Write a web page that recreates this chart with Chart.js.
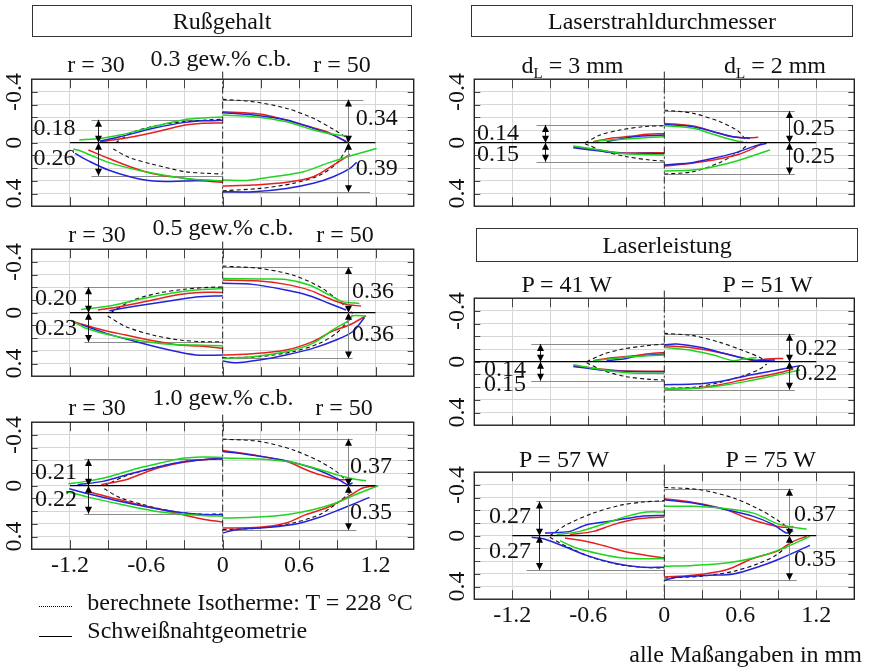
<!DOCTYPE html>
<html><head><meta charset="utf-8">
<script src="https://cdn.jsdelivr.net/npm/chart.js@4.4.1/dist/chart.umd.min.js"></script>
<style>
html,body{margin:0;padding:0;background:#fff;}
#wrap{position:relative;width:869px;height:671px;overflow:hidden;font-family:"Liberation Serif","Times New Roman",serif;color:#111;}
canvas{position:absolute;left:0;top:0;}
.t{position:absolute;font-size:24px;line-height:24px;white-space:nowrap;}
.c{transform:translateX(-50%);}
.box{position:absolute;box-sizing:border-box;border:1px solid #333;font-size:24px;line-height:30px;text-align:center;}
.sub{font-size:15px;position:relative;top:5px;}
.ln{position:absolute;height:0;}
</style></head>
<body><div id="wrap"></div>
<script>
// ---------- DATA ----------
var xTickLabels = [-1.2, -0.6, 0, 0.6, 1.2];
var yTickLabels = [-0.4, 0, 0.4];

// Rußgehalt 0.3 gew.% c.b. (L: r = 30, R: r = 50)
var r03_dims = [0.18, 0.26, 0.34, 0.39];
var r03_L_green_up = [[-1.126,-0.021],[-0.963,-0.034],[-0.806,-0.06],[-0.545,-0.126],[-0.283,-0.184],[-0.126,-0.197],[0,-0.202]];
var r03_L_blue_up = [[-0.963,-0.013],[-0.806,-0.047],[-0.545,-0.113],[-0.296,-0.16],[-0.126,-0.173],[0,-0.176]];
var r03_L_red_up = [[-0.963,-0.008],[-0.81,-0.029],[-0.545,-0.081],[-0.296,-0.139],[-0.18,-0.152],[0,-0.155]];
var r03_L_iso_up = [[-0.84,0],[-0.7,-0.085],[-0.5,-0.138],[-0.3,-0.166],[-0.1,-0.18],[0,-0.184]];
var r03_L_green_lo = [[-1.173,0.05],[-1.13,0.06],[-1.04,0.097],[-0.898,0.155],[-0.728,0.202],[-0.545,0.241],[-0.296,0.281],[-0.126,0.294],[0,0.302]];
var r03_L_blue_lo = [[-1.16,0.084],[-1.04,0.15],[-0.898,0.215],[-0.728,0.268],[-0.545,0.302],[-0.296,0.302],[-0.126,0.297],[0,0.302]];
var r03_L_red_lo = [[-1.055,0.058],[-0.898,0.123],[-0.728,0.189],[-0.545,0.244],[-0.296,0.281],[-0.126,0.302],[0,0.312]];
var r03_L_iso_lo = [[-0.86,0.05],[-0.73,0.118],[-0.545,0.171],[-0.296,0.228],[-0.126,0.241],[0,0.247]];
var r03_R_green_up = [[0,-0.218],[0.24,-0.205],[0.503,-0.165],[0.712,-0.1],[0.869,-0.066],[0.974,-0.052]];
var r03_R_blue_up = [[0,-0.236],[0.24,-0.218],[0.503,-0.178],[0.712,-0.113],[0.869,-0.06],[0.969,-0.008]];
var r03_R_red_up = [[0,-0.244],[0.24,-0.231],[0.398,-0.205],[0.634,-0.139],[0.817,-0.087],[0.948,-0.021],[0.985,0]];
var r03_R_iso_up = [[0,-0.341],[0.24,-0.323],[0.503,-0.27],[0.712,-0.192],[0.869,-0.105],[0.96,-0.047],[0.987,-0.008]];
var r03_R_green_lo = [[0,0.294],[0.19,0.297],[0.398,0.268],[0.634,0.228],[0.843,0.155],[1.026,0.097],[1.209,0.045]];
var r03_R_blue_lo = [[0,0.386],[0.24,0.386],[0.503,0.36],[0.712,0.32],[0.869,0.268],[1.0,0.202],[1.052,0.155]];
var r03_R_red_lo = [[0,0.341],[0.24,0.333],[0.503,0.312],[0.712,0.268],[0.869,0.176],[1.0,0.092]];
var r03_R_iso_lo = [[0,0.378],[0.293,0.36],[0.555,0.32],[0.764,0.255],[0.895,0.163],[0.96,0.071],[0.987,0.018]];

// Rußgehalt 0.5 gew.% c.b.
var r05_dims = [0.20, 0.23, 0.36, 0.36];
var r05_L_green_up = [[-1.113,-0.026],[-0.89,-0.052],[-0.68,-0.1],[-0.419,-0.152],[-0.209,-0.178],[0,-0.19]];
var r05_L_blue_up = [[-0.89,-0.016],[-0.68,-0.052],[-0.419,-0.092],[-0.209,-0.123],[0,-0.134]];
var r05_L_red_up = [[-0.98,-0.021],[-0.81,-0.047],[-0.55,-0.1],[-0.34,-0.144],[-0.183,-0.16],[0,-0.16]];
var r05_L_iso_up = [[-0.88,0],[-0.7,-0.1],[-0.5,-0.155],[-0.3,-0.185],[-0.1,-0.2],[0,-0.202]];
var r05_L_green_lo = [[-1.19,0.058],[-1.073,0.123],[-0.903,0.171],[-0.68,0.215],[-0.419,0.249],[-0.209,0.255],[0,0.26]];
var r05_L_blue_lo = [[-1.113,0.092],[-0.916,0.163],[-0.68,0.228],[-0.419,0.294],[-0.209,0.333],[0,0.333]];
var r05_L_red_lo = [[-1.19,0.066],[-0.942,0.136],[-0.76,0.176],[-0.55,0.22],[-0.34,0.255],[-0.183,0.262],[0,0.281]];
var r05_L_iso_lo = [[-0.903,0.026],[-0.76,0.11],[-0.55,0.176],[-0.34,0.215],[-0.157,0.228],[0,0.228]];
var r05_R_green_up = [[0,-0.27],[0.288,-0.265],[0.497,-0.262],[0.68,-0.218],[0.838,-0.139],[0.942,-0.087],[1.073,-0.073]];
var r05_R_blue_up = [[0,-0.231],[0.236,-0.223],[0.497,-0.178],[0.68,-0.134],[0.838,-0.073],[0.969,-0.021]];
var r05_R_red_up = [[0,-0.257],[0.288,-0.249],[0.497,-0.223],[0.68,-0.178],[0.864,-0.1],[0.969,-0.066],[1.086,-0.052]];
var r05_R_iso_up = [[0,-0.367],[0.288,-0.349],[0.55,-0.297],[0.76,-0.205],[0.89,-0.113],[0.98,-0.034],[1.02,0.005]];
var r05_R_green_lo = [[0,0.36],[0.236,0.346],[0.497,0.307],[0.707,0.241],[0.864,0.136],[0.995,0.058],[1.02,0.024],[1.126,0.026]];
var r05_R_blue_lo = [[0,0.38],[0.105,0.394],[0.288,0.373],[0.497,0.333],[0.707,0.281],[0.89,0.215],[1.02,0.15],[1.113,0.039]];
var r05_R_red_lo = [[0,0.333],[0.236,0.323],[0.497,0.294],[0.707,0.228],[0.864,0.144],[0.995,0.097],[1.126,0.024]];
var r05_R_iso_lo = [[0,0.354],[0.288,0.346],[0.55,0.307],[0.76,0.241],[0.89,0.163],[0.98,0.071],[1.02,0.018]];

// Rußgehalt 1.0 gew.% c.b.
var r10_dims = [0.21, 0.22, 0.37, 0.35];
var r10_L_green_up = [[-1.212,-0.016],[-1.073,-0.034],[-0.885,-0.073],[-0.68,-0.134],[-0.492,-0.178],[-0.34,-0.213],[-0.157,-0.226],[0,-0.223]];
var r10_L_blue_up = [[-1.14,-0.008],[-0.942,-0.034],[-0.733,-0.092],[-0.492,-0.152],[-0.288,-0.192],[-0.131,-0.207],[0,-0.213]];
var r10_L_red_up = [[-0.955,-0.008],[-0.76,-0.047],[-0.55,-0.126],[-0.34,-0.178],[-0.157,-0.205],[0,-0.218]];
var r10_L_iso_up = [[-0.93,0],[-0.75,-0.08],[-0.5,-0.15],[-0.3,-0.19],[-0.1,-0.208],[0,-0.212]];
var r10_L_green_lo = [[-1.23,0.045],[-1.047,0.092],[-0.812,0.144],[-0.55,0.197],[-0.34,0.223],[-0.131,0.236],[0,0.241]];
var r10_L_blue_lo = [[-1.204,0.024],[-1.047,0.066],[-0.812,0.123],[-0.55,0.176],[-0.34,0.21],[-0.131,0.228],[0,0.228]];
var r10_L_red_lo = [[-1.047,0.05],[-0.864,0.097],[-0.68,0.144],[-0.471,0.189],[-0.262,0.241],[-0.131,0.268],[0,0.286]];
var r10_L_iso_lo = [[-0.93,0.024],[-0.812,0.092],[-0.602,0.155],[-0.393,0.202],[-0.183,0.223],[0,0.223]];
var r10_R_green_up = [[0,-0.218],[0.236,-0.213],[0.497,-0.192],[0.707,-0.144],[0.89,-0.087],[1.02,-0.055],[1.126,-0.039]];
var r10_R_blue_up = [[0,-0.27],[0.236,-0.239],[0.497,-0.197],[0.707,-0.139],[0.89,-0.06],[0.98,-0.008],[1.02,-0.021]];
var r10_R_red_up = [[0,-0.278],[0.236,-0.244],[0.497,-0.192],[0.654,-0.126],[0.76,-0.087],[0.916,-0.047],[1.02,-0.055]];
var r10_R_iso_up = [[0,-0.367],[0.288,-0.349],[0.55,-0.283],[0.76,-0.192],[0.89,-0.113],[0.98,-0.034]];
var r10_R_green_lo = [[0,0.255],[0.236,0.249],[0.497,0.228],[0.707,0.189],[0.89,0.136],[1.073,0.058],[1.22,0]];
var r10_R_blue_lo = [[0,0.373],[0.105,0.346],[0.366,0.328],[0.576,0.302],[0.76,0.249],[0.916,0.189],[1.152,0.092]];
var r10_R_red_lo = [[0,0.333],[0.288,0.328],[0.497,0.294],[0.654,0.228],[0.812,0.176],[0.969,0.097],[1.1,0.018],[1.22,0]];
var r10_R_iso_lo = [[0,0.346],[0.288,0.333],[0.55,0.294],[0.76,0.228],[0.89,0.144],[0.98,0.071],[1.02,0.03]];

// Laserstrahldurchmesser (L: dL = 3 mm, R: dL = 2 mm)
var dl_dims = [0.14, 0.15, 0.25, 0.25];
var dl_L_green_up = [[-0.56,-0.005],[-0.508,-0.016],[-0.35,-0.026],[-0.245,-0.034],[0,-0.047]];
var dl_L_blue_up = [[-0.455,-0.008],[-0.35,-0.029],[-0.245,-0.047],[0,-0.06]];
var dl_L_red_up = [[-0.56,-0.008],[-0.429,-0.034],[-0.245,-0.052],[-0.139,-0.066],[0,-0.071]];
var dl_L_iso_up = [[-0.626,0],[-0.508,-0.06],[-0.35,-0.1],[-0.166,-0.126],[0,-0.134]];
var dl_L_green_lo = [[-0.718,0.026],[-0.508,0.058],[-0.35,0.084],[-0.166,0.092],[0,0.097]];
var dl_L_blue_lo = [[-0.718,0.039],[-0.508,0.066],[-0.35,0.084],[-0.166,0.084],[0,0.087]];
var dl_L_red_lo = [[-0.718,0.031],[-0.508,0.06],[-0.35,0.079],[0,0.079]];
var dl_L_iso_lo = [[-0.626,0.008],[-0.48,0.066],[-0.297,0.11],[-0.113,0.136],[0,0.144]];
var dl_R_green_up = [[0,-0.134],[0.229,-0.113],[0.387,-0.066],[0.571,-0.013],[0.624,-0.008]];
var dl_R_blue_up = [[0,-0.144],[0.229,-0.126],[0.387,-0.087],[0.545,-0.047],[0.676,-0.034]];
var dl_R_red_up = [[0,-0.152],[0.229,-0.131],[0.387,-0.087],[0.545,-0.045],[0.676,-0.039],[0.742,-0.042]];
var dl_R_iso_up = [[0,-0.257],[0.229,-0.231],[0.44,-0.165],[0.571,-0.1],[0.624,-0.047],[0.65,0]];
var dl_R_green_lo = [[0,0.223],[0.229,0.215],[0.387,0.189],[0.571,0.144],[0.834,0.058]];
var dl_R_blue_lo = [[0,0.176],[0.229,0.155],[0.387,0.123],[0.545,0.084],[0.703,0.031],[0.808,0.005]];
var dl_R_red_lo = [[0,0.184],[0.229,0.16],[0.387,0.136],[0.571,0.097],[0.703,0.045],[0.768,0.005]];
var dl_R_iso_lo = [[0,0.247],[0.229,0.228],[0.44,0.155],[0.571,0.084],[0.65,0.024]];

// Laserleistung (L: P = 41 W, R: P = 51 W)
var p41_dims = [0.14, 0.15, 0.22, 0.22];
var p41_L_green_up = [[-0.56,-0.008],[-0.429,-0.021],[-0.271,-0.039],[0,-0.052]];
var p41_L_blue_up = [[-0.455,-0.008],[-0.324,-0.021],[-0.245,-0.039],[0,-0.06]];
var p41_L_red_up = [[-0.56,-0.008],[-0.429,-0.029],[-0.245,-0.047],[-0.087,-0.066],[0,-0.071]];
var p41_L_iso_up = [[-0.613,0],[-0.48,-0.06],[-0.324,-0.1],[-0.139,-0.126],[0,-0.139]];
var p41_L_green_lo = [[-0.718,0.024],[-0.508,0.06],[-0.297,0.087],[0,0.092]];
var p41_L_blue_lo = [[-0.718,0.037],[-0.508,0.066],[-0.35,0.076],[0,0.079]];
var p41_L_red_lo = [[-0.718,0.031],[-0.508,0.058],[-0.35,0.071],[0,0.076]];
var p41_L_iso_lo = [[-0.613,0.008],[-0.48,0.071],[-0.297,0.118],[-0.113,0.139],[0,0.144]];
var p41_R_green_up = [[0,-0.113],[0.229,-0.087],[0.387,-0.052],[0.545,-0.008],[0.624,-0.021],[0.729,-0.034]];
var p41_R_blue_up = [[0,-0.134],[0.097,-0.139],[0.282,-0.113],[0.492,-0.06],[0.703,-0.013],[0.874,-0.013]];
var p41_R_red_up = [[0,-0.126],[0.229,-0.108],[0.492,-0.06],[0.703,-0.008],[0.808,-0.021],[0.939,-0.026]];
var p41_R_iso_up = [[0,-0.223],[0.229,-0.205],[0.44,-0.152],[0.624,-0.087],[0.755,-0.034],[0.795,-0.008]];
var p41_R_green_lo = [[0,0.213],[0.229,0.21],[0.44,0.189],[0.65,0.155],[0.86,0.11],[1.071,0.066]];
var p41_R_blue_lo = [[0,0.181],[0.229,0.176],[0.44,0.155],[0.65,0.11],[0.86,0.071],[1.071,0.031]];
var p41_R_red_lo = [[0,0.215],[0.229,0.21],[0.44,0.181],[0.65,0.136],[0.86,0.097],[1.018,0.058]];
var p41_R_iso_lo = [[0,0.21],[0.229,0.202],[0.44,0.163],[0.624,0.11],[0.755,0.058],[0.808,0.018]];

// Laserleistung (L: P = 57 W, R: P = 75 W)
var p57_dims = [0.27, 0.27, 0.37, 0.35];
var p57_L_green_up = [[-0.85,-0.008],[-0.666,-0.034],[-0.482,-0.092],[-0.297,-0.152],[-0.139,-0.186],[0,-0.186]];
var p57_L_blue_up = [[-0.942,-0.021],[-0.745,-0.034],[-0.613,-0.087],[-0.403,-0.118],[-0.192,-0.152],[0,-0.16]];
var p57_L_red_up = [[-0.745,-0.008],[-0.56,-0.034],[-0.403,-0.087],[-0.218,-0.131],[0,-0.147]];
var p57_L_iso_up = [[-0.903,0],[-0.771,-0.087],[-0.56,-0.178],[-0.35,-0.239],[-0.166,-0.265],[0,-0.276]];
var p57_L_green_lo = [[-0.824,0.039],[-0.692,0.097],[-0.508,0.144],[-0.324,0.176],[-0.139,0.181],[0,0.181]];
var p57_L_blue_lo = [[-1.047,0.013],[-0.955,0.024],[-0.824,0.071],[-0.613,0.155],[-0.403,0.215],[-0.192,0.247],[0,0.249]];
var p57_L_red_lo = [[-0.784,0.018],[-0.613,0.045],[-0.455,0.084],[-0.297,0.129],[-0.139,0.155],[0,0.176]];
var p57_L_iso_lo = [[-0.903,0.013],[-0.771,0.084],[-0.56,0.176],[-0.35,0.228],[-0.166,0.249],[0,0.255]];
var p57_R_green_up = [[0,-0.231],[0.229,-0.231],[0.492,-0.213],[0.703,-0.178],[0.913,-0.087],[1.124,-0.052]];
var p57_R_blue_up = [[0,-0.283],[0.229,-0.257],[0.492,-0.205],[0.703,-0.152],[0.86,-0.087],[0.966,-0.021],[1.018,-0.039]];
var p57_R_red_up = [[0,-0.291],[0.229,-0.262],[0.492,-0.205],[0.65,-0.139],[0.808,-0.092],[0.939,-0.066],[1.018,-0.073]];
var p57_R_iso_up = [[0,-0.38],[0.282,-0.362],[0.545,-0.297],[0.755,-0.205],[0.887,-0.126],[0.979,-0.06],[1.018,-0.021]];
var p57_R_green_lo = [[0,0.241],[0.229,0.234],[0.492,0.215],[0.703,0.176],[0.913,0.11],[1.15,0.005]];
var p57_R_blue_lo = [[0,0.352],[0.097,0.328],[0.36,0.312],[0.545,0.302],[0.755,0.241],[0.913,0.181],[1.15,0.076]];
var p57_R_red_lo = [[0,0.325],[0.229,0.312],[0.492,0.268],[0.703,0.178],[0.887,0.123],[1.018,0.045],[1.124,0.005]];
var p57_R_iso_lo = [[0,0.333],[0.282,0.32],[0.545,0.281],[0.755,0.215],[0.887,0.15],[0.979,0.071],[1.018,0.018]];

// ---------- LAYOUT / STYLE ----------
var W = 869, H = 671;
var FONT = '"Liberation Serif","Times New Roman",serif';
var COLORS = {green:'#1ed51e', blue:'#2323dc', red:'#e6201e', iso:'#111'};
var panels = [
 {id:'r03', box:[31.7,79.2,413.7,206.2], zeroFrom:-1.2, xLab:false,
  lay:{lArrow:-0.976, rArrow:0.985, lFrom:[-1.03,-1.03], rTo:[1.105,1.157], lLab:[-1.32,-0.113,0.126], rLab:[1.21,-0.19,0.205], rShaft:'#888'}},
 {id:'r05', box:[31.7,249.2,413.7,376.2], zeroFrom:-1.2, xLab:false,
  lay:{lArrow:-1.055, rArrow:0.987, lFrom:[-1.086,-1.086], rTo:[1.02,1.02], lLab:[-1.31,-0.113,0.123], rLab:[1.18,-0.165,0.17], rShaft:'#888'}},
 {id:'r10', box:[31.7,422.2,413.7,549.2], zeroFrom:-1.2, xLab:true,
  lay:{lArrow:-1.06, rArrow:0.987, lFrom:[-1.086,-1.086], rTo:[1.02,1.05], lLab:[-1.31,-0.1,0.11], rLab:[1.165,-0.152,0.215], rShaft:'#888'}},
 {id:'dl', box:[474.3,79.2,854.3,206.2], zeroFrom:-1.5, xLab:false,
  lay:{lArrow:-0.942, rArrow:0.987, lFrom:[-1.008,-1.008], rTo:[1.03,1.03], lLab:[-1.313,-0.073,0.097], rLab:[1.18,-0.11,0.113], rShaft:'#333'}},
 {id:'p41', box:[474.3,298.2,854.3,425.2], zeroFrom:-1.5, xLab:false,
  lay:{lArrow:-0.98, rArrow:0.988, lFrom:[-1.05,-1.05], rTo:[1.03,1.03], lLab:[-1.258,0.063,0.18], rLab:[1.2,-0.1,0.097], rShaft:'#333'}},
 {id:'p57', box:[474.3,472.2,854.3,599.2], zeroFrom:-1.2, xLab:true,
  lay:{lArrow:-0.99, rArrow:0.988, lFrom:[-1.008,-1.087], rTo:[1.018,1.045], lLab:[-1.218,-0.152,0.129], rLab:[1.19,-0.165,0.19], rShaft:'#888'}}
];

function toXY(arr){ return arr.map(function(p){ return {x:p[0], y:p[1]}; }); }
function lineDs(arr, color, dashed){
  return {data: toXY(arr), borderColor: color, borderWidth: dashed ? 1.1 : 1.5,
          borderDash: dashed ? [4,3] : [], pointRadius: 0, showLine: true, tension: 0.3, fill: false};
}
function head(ctx, x, y, dir){
  ctx.beginPath(); ctx.moveTo(x, y); ctx.lineTo(x-3.5, y - dir*7); ctx.lineTo(x+3.5, y - dir*7); ctx.closePath(); ctx.fill();
}
function fmt(v){ return String(v); }

function panelPlugin(p){
  var dims = window[p.id + '_dims'], L = p.lay;
  return {
    id: 'panel_' + p.id,
    beforeDatasetsDraw: function(chart){
      var ctx = chart.ctx, xs = chart.scales.x, ys = chart.scales.y;
      var X = function(v){ return xs.getPixelForValue(v); }, Y = function(v){ return Math.round(ys.getPixelForValue(v)) + 0.5; };
      ctx.save();
      ctx.strokeStyle = '#8a8a8a'; ctx.lineWidth = 1;
      function hl(x1, x2, y){ ctx.beginPath(); ctx.moveTo(X(x1), Y(y)); ctx.lineTo(X(x2), Y(y)); ctx.stroke(); }
      hl(L.lFrom[0], 0, -dims[0]); hl(L.lFrom[1], 0, dims[1]);
      hl(0, L.rTo[0], -dims[2]); hl(0, L.rTo[1], dims[3]);
      ctx.restore();
    },
    afterDatasetsDraw: function(chart){
      var ctx = chart.ctx, xs = chart.scales.x, ys = chart.scales.y;
      var X = function(v){ return xs.getPixelForValue(v); }, Y = function(v){ return ys.getPixelForValue(v); };
      ctx.save();
      ctx.lineWidth = 1;
      function dbl(xv, top, bot, col){
        var x = Math.round(X(xv)) + 0.5;
        ctx.strokeStyle = col;
        ctx.beginPath(); ctx.moveTo(x, Y(top)); ctx.lineTo(x, Y(bot)); ctx.stroke();
        ctx.fillStyle = '#000';
        head(ctx, x, Y(top), -1); head(ctx, x, Y(bot), 1);
      }
      dbl(L.lArrow, -dims[0], 0, '#222'); dbl(L.lArrow, 0, dims[1], '#222');
      dbl(L.rArrow, -dims[2], 0, L.rShaft); dbl(L.rArrow, 0, dims[3], L.rShaft);
      ctx.fillStyle = '#111';
      ctx.font = '24px ' + FONT; ctx.textAlign = 'center'; ctx.textBaseline = 'middle';
      ctx.fillText(dims[0].toFixed(2), X(L.lLab[0]), Y(L.lLab[1]));
      ctx.fillText(dims[1].toFixed(2), X(L.lLab[0]), Y(L.lLab[2]));
      ctx.fillText(dims[2].toFixed(2), X(L.rLab[0]), Y(L.rLab[1]));
      ctx.fillText(dims[3].toFixed(2), X(L.rLab[0]), Y(L.rLab[2]));
      ctx.restore();
    },
    afterDraw: function(chart){
      var ctx = chart.ctx, a = chart.chartArea, xs = chart.scales.x, ys = chart.scales.y;
      ctx.save();
      ctx.strokeStyle = '#444'; ctx.lineWidth = 1;
      xs.ticks.forEach(function(t){
        if (Math.abs(t.value) > 1.45) return;
        var x = Math.round(xs.getPixelForValue(t.value)) + 0.5;
        ctx.beginPath(); ctx.moveTo(x, a.top); ctx.lineTo(x, a.top + 9); ctx.moveTo(x, a.bottom); ctx.lineTo(x, a.bottom - 9); ctx.stroke();
      });
      ys.ticks.forEach(function(t){
        if (Math.abs(t.value) > 0.45) return;
        var y = Math.round(ys.getPixelForValue(t.value)) + 0.5;
        ctx.beginPath(); ctx.moveTo(a.left, y); ctx.lineTo(a.left + 6, y); ctx.moveTo(a.right, y); ctx.lineTo(a.right - 6, y); ctx.stroke();
      });
      ctx.strokeStyle = '#222'; ctx.lineWidth = 1.4;
      ctx.strokeRect(a.left, a.top, a.right - a.left, a.bottom - a.top);
      ctx.fillStyle = '#111';
      ctx.font = '24px ' + FONT; ctx.textAlign = 'center'; ctx.textBaseline = 'middle';
      yTickLabels.forEach(function(v){
        ctx.save(); ctx.translate(a.left - 16.5, ys.getPixelForValue(v)); ctx.rotate(-Math.PI/2);
        ctx.fillText(fmt(v), 0, 0); ctx.restore();
      });
      if (p.xLab){
        xTickLabels.forEach(function(v){ ctx.fillText(fmt(v), xs.getPixelForValue(v), a.bottom + 17); });
      }
      ctx.restore();
    }
  };
}

var wrap = document.getElementById('wrap');
panels.forEach(function(p){
  var cv = document.createElement('canvas');
  cv.width = W; cv.height = H; cv.style.width = W + 'px'; cv.style.height = H + 'px';
  wrap.appendChild(cv);
  var ds = [];
  ['L','R'].forEach(function(side){
    ['green','blue','red','iso'].forEach(function(col){
      ['up','lo'].forEach(function(part){
        var arr = window[p.id + '_' + side + '_' + col + '_' + part];
        if (arr) ds.push(lineDs(arr, COLORS[col], col === 'iso'));
      });
    });
  });
  ds.unshift({data: toXY([[p.zeroFrom,0],[1.2,0]]), borderColor:'#000', borderWidth:1.3, pointRadius:0, showLine:true});
  ds.unshift({data: toXY([[0,-0.56],[0,0.5]]), borderColor:'#222', borderWidth:1, borderDash:[7,3,2,3], pointRadius:0, showLine:true, clip:false});
  new Chart(cv, {
    type: 'scatter',
    data: {datasets: ds},
    options: {
      responsive: false, animation: false, devicePixelRatio: 1,
      layout: {padding: {left: p.box[0], top: p.box[1], right: W - p.box[2], bottom: H - p.box[3]}},
      plugins: {legend: {display:false}, tooltip: {enabled:false}},
      scales: {
        x: {type:'linear', min:-1.5, max:1.5, ticks:{display:false, stepSize:0.3}, border:{display:false},
            grid:{color:'#d6d6d6', lineWidth:1, drawTicks:false}},
        y: {type:'linear', min:-0.5, max:0.5, reverse:true, ticks:{display:false, stepSize:0.1}, border:{display:false},
            grid:{color:'#d6d6d6', lineWidth:1, drawTicks:false}}
      }
    },
    plugins: [panelPlugin(p)]
  });
});

// ---------- TEXT (HTML) ----------
function box(txt, l, t, w, h){
  var d = document.createElement('div'); d.className = 'box';
  d.style.left = l + 'px'; d.style.top = t + 'px'; d.style.width = w + 'px'; d.style.height = h + 'px';
  d.style.lineHeight = (h - 2) + 'px';
  d.textContent = txt; wrap.appendChild(d);
}
function txt(html, x, base, center){
  var d = document.createElement('div'); d.className = 't' + (center ? ' c' : '');
  d.style.left = x + 'px'; d.style.top = (base - 20) + 'px';
  d.innerHTML = html; wrap.appendChild(d);
}
box('Rußgehalt', 31.7, 5, 380.6, 32.3);
box('Laserstrahldurchmesser', 470.7, 5, 382.6, 32.3);
box('Laserleistung', 476, 228.3, 382.3, 34);

txt('r = 30', 96, 71.7, true); txt('0.3 gew.% c.b.', 221, 66, true); txt('r = 50', 342, 71.7, true);
txt('r = 30', 97, 241.7, true); txt('0.5 gew.% c.b.', 223, 235, true); txt('r = 50', 345, 241.7, true);
txt('r = 30', 97, 415, true); txt('1.0 gew.% c.b.', 223, 405, true); txt('r = 50', 344, 415, true);
txt('d<span class="sub">L</span> = 3 mm', 572.5, 73.3, true); txt('d<span class="sub">L</span> = 2 mm', 775, 73.3, true);
txt('P = 41 W', 566.7, 291.7, true); txt('P = 51 W', 767.5, 291.7, true);
txt('P = 57 W', 564, 466.7, true); txt('P = 75 W', 770.7, 466.7, true);

txt('berechnete Isotherme: T = 228 °C', 87.3, 609.5, false);
txt('Schweißnahtgeometrie', 87.3, 638.3, false);
txt('alle Maßangaben in mm', 629.3, 661.7, false);

var l1 = document.createElement('div'); l1.className = 'ln';
l1.style.cssText = 'left:39px;top:606px;width:33px;border-top:1px dotted #000;'; wrap.appendChild(l1);
var l2 = document.createElement('div'); l2.className = 'ln';
l2.style.cssText = 'left:39px;top:636px;width:33px;border-top:1px solid #000;'; wrap.appendChild(l2);
</script>
</body></html>
